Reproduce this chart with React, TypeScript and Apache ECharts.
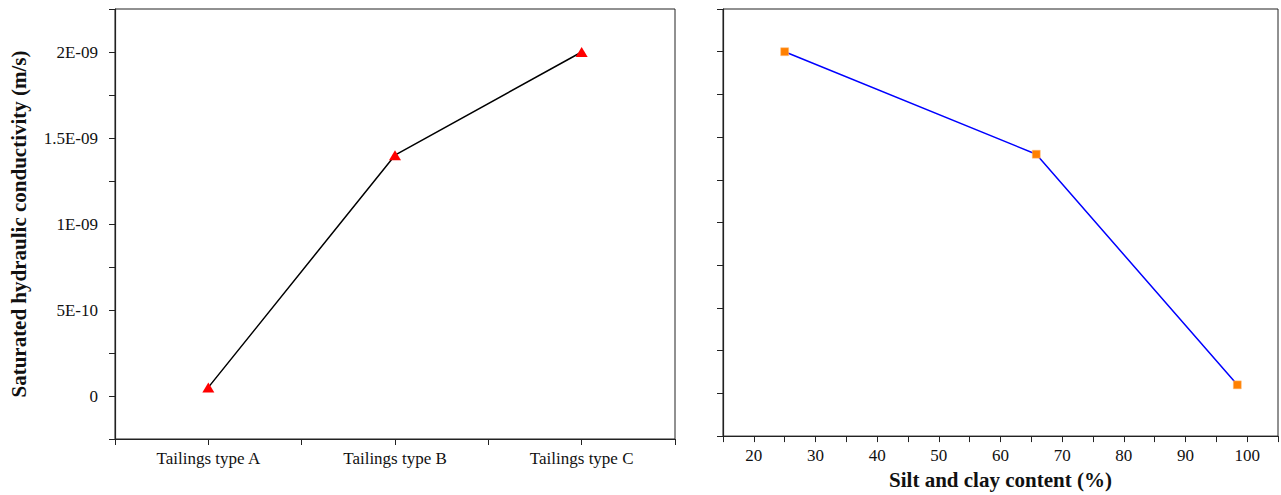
import React, { useEffect, useRef } from "react";
import * as echarts from "echarts";

const categories = ["Tailings type A", "Tailings type B", "Tailings type C"];
const conductivity = [5e-11, 1.4e-9, 2.0e-9];
const siltClay = [25, 65.8, 98.4];
const conductivityBySilt = [2.0e-9, 1.4e-9, 5e-11];

const FONT = "Liberation Serif, Times New Roman, serif";

function fmtY(v: number): string {
  const k = Math.round(v / 2.5e-10);
  if (k % 2 !== 0) return "";
  if (k === 0) return "0";
  const e = Math.floor(Math.log10(Math.abs(v)) + 1e-9);
  const m = +(v / Math.pow(10, e)).toFixed(2);
  return `${m}E${e < 0 ? "-" : "+"}${String(Math.abs(e)).padStart(2, "0")}`;
}

export default function App() {
  const ref = useRef<HTMLDivElement>(null);
  useEffect(() => {
    if (!ref.current) return;
    const chart = echarts.init(ref.current, undefined, { renderer: "svg" });
    const axisLine = { show: true, onZero: false, lineStyle: { color: "#222", width: 1.2 } };
    const axisTick = { show: true, length: 6, lineStyle: { color: "#222", width: 1 } };
    const yCommon = {
      type: "value" as const,
      min: -2.5e-10,
      max: 2.25e-9,
      interval: 2.5e-10,
      axisLine,
      axisTick,
      splitLine: { show: false },
    };
    chart.setOption({
      animation: false,
      backgroundColor: "#ffffff",
      grid: [
        { left: 115, width: 560, top: 9, height: 430, show: true, borderColor: "#222", borderWidth: 1, backgroundColor: "transparent" },
        { left: 723, width: 559, top: 9, height: 430, show: true, borderColor: "#222", borderWidth: 1, backgroundColor: "transparent" },
      ],
      xAxis: [
        {
          gridIndex: 0,
          type: "value",
          min: 0.5,
          max: 3.5,
          interval: 0.5,
          axisLine,
          axisTick,
          splitLine: { show: false },
          axisLabel: {
            margin: 11,
            fontFamily: FONT,
            fontSize: 17,
            color: "#111",
            formatter: (v: number) => {
              const i = Math.round(v * 2);
              if (i % 2 !== 0) return "";
              return categories[i / 2 - 1] ?? "";
            },
          },
        },
        {
          gridIndex: 1,
          type: "value",
          min: 15,
          max: 105,
          interval: 5,
          axisLine,
          axisTick,
          splitLine: { show: false },
          name: "Silt and clay content (%)",
          nameLocation: "middle",
          nameGap: 32,
          nameTextStyle: { fontFamily: FONT, fontSize: 21, fontWeight: "bold", color: "#111" },
          axisLabel: {
            margin: 11,
            fontFamily: FONT,
            fontSize: 17,
            color: "#111",
            formatter: (v: number) => (Math.round(v) % 10 === 0 ? String(Math.round(v)) : ""),
          },
        },
      ],
      yAxis: [
        {
          ...yCommon,
          gridIndex: 0,
          name: "Saturated hydraulic conductivity (m/s)",
          nameLocation: "middle",
          nameGap: 86,
          nameTextStyle: { fontFamily: FONT, fontSize: 21, fontWeight: "bold", color: "#111" },
          axisLabel: { margin: 17, fontFamily: FONT, fontSize: 17, color: "#111", formatter: fmtY },
        },
        {
          ...yCommon,
          gridIndex: 1,
          axisLabel: { show: false },
        },
      ],
      series: [
        {
          type: "line",
          xAxisIndex: 0,
          yAxisIndex: 0,
          data: categories.map((_, i) => [i + 1, conductivity[i]]),
          lineStyle: { color: "#000", width: 1.5 },
          symbol: "triangle",
          symbolSize: [12, 10],
          itemStyle: { color: "#ff0000" },
          z: 3,
        },
        {
          type: "line",
          xAxisIndex: 1,
          yAxisIndex: 1,
          data: siltClay.map((x, i) => [x, conductivityBySilt[i]]),
          lineStyle: { color: "#0000ff", width: 1.5 },
          symbol: "rect",
          symbolSize: 8,
          itemStyle: { color: "#ff8000", borderColor: "#ffc080", borderWidth: 0.5 },
          z: 3,
        },
      ],
    });
    return () => chart.dispose();
  }, []);
  return (
    <div
      ref={ref}
      style={{ position: "fixed", left: 0, top: 0, width: 1281, height: 495, background: "#fff" }}
    />
  );
}
